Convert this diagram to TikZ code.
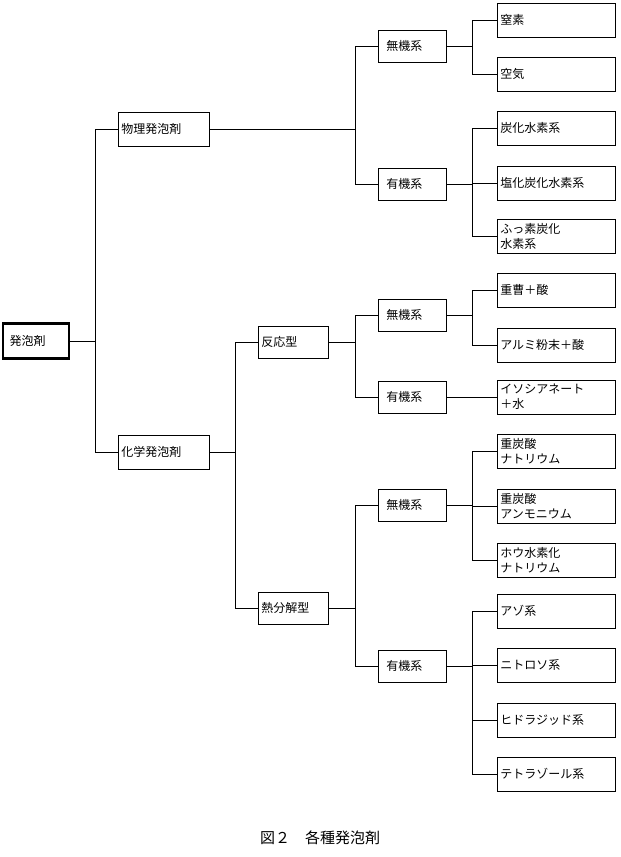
\documentclass[tikz,border=0pt]{standalone}
\usepackage{fontspec}
\setmainfont{Noto Sans CJK JP}
\usetikzlibrary{positioning}
\tikzset{
  box/.style={draw, line width=0.7pt, font=\fontsize{12}{15}\selectfont, inner sep=3pt, anchor=west, align=left},
  rootbox/.style={box, line width=2.2pt, text width=60pt, minimum height=35pt},
  catbox/.style={box, text width=85pt, minimum height=34pt},
  typebox/.style={box, text width=64pt, minimum height=32pt},
  midbox/.style={box, text width=62pt, minimum height=32pt},
  leafbox/.style={box, text width=112pt, minimum height=34pt},
  conn/.style={line width=0.7pt}
}
\begin{document}
\begin{tikzpicture}[x=1pt, y=-1pt]
        \useasboundingbox (0,0) rectangle (621,857);
        % root and first level
        \node[rootbox] (root) at (1.5,341) {\hspace*{4pt}発泡剤};
        \node[catbox] (phys) at (118,129) {物理発泡剤};
        \node[catbox] (chem) at (118,452) {化学発泡剤};
        \node[typebox] (react) at (258,342) {反応型};
        \node[typebox] (therm) at (258,608) {熱分解型};
        
        % middle level
        \node[midbox] (pin) at (378,46) {\hspace*{5pt}無機系};
        \node[midbox] (porg) at (378,184) {\hspace*{5pt}有機系};
        \node[midbox] (rin) at (378,315) {\hspace*{5pt}無機系};
        \node[midbox] (rorg) at (378,397) {\hspace*{5pt}有機系};
        \node[midbox] (tin) at (378,505) {\hspace*{5pt}無機系};
        \node[midbox] (torg) at (378,666) {\hspace*{5pt}有機系};
        
        % leaves
        \node[leafbox] (l1) at (497,20) {窒素};
        \node[leafbox] (l2) at (497,74) {空気};
        \node[leafbox] (l3) at (497,128) {炭化水素系};
        \node[leafbox] (l4) at (497,183) {塩化炭化水素系};
        \node[leafbox] (l5) at (497,236) {ふっ素炭化\\水素系};
        \node[leafbox] (l6) at (497,290) {重曹＋酸};
        \node[leafbox] (l7) at (497,345) {アルミ粉末＋酸};
        \node[leafbox] (l8) at (497,397) {イソシアネート\\＋水};
        \node[leafbox] (l9) at (497,451) {重炭酸\\ナトリウム};
        \node[leafbox] (l10) at (497,506) {重炭酸\\アンモニウム};
        \node[leafbox] (l11) at (497,560) {ホウ水素化\\ナトリウム};
        \node[leafbox] (l12) at (497,611) {アゾ系};
        \node[leafbox] (l13) at (497,665) {ニトロソ系};
        \node[leafbox] (l14) at (497,720) {ヒドラジッド系};
        \node[leafbox] (l15) at (497,774) {テトラゾール系};
        
        % connectors
        \draw[conn] (phys.west) -- ++(-23,0) |- (chem.west);
        \draw[conn] (root.east) -- ([xshift=-23pt]phys.west |- root.east);
        \draw[conn] (pin.west) -- ++(-23,0) |- (porg.west);
        \draw[conn] (phys.east) -- ([xshift=-23pt]pin.west |- phys.east);
        \draw[conn] (react.west) -- ++(-23,0) |- (therm.west);
        \draw[conn] (chem.east) -- ([xshift=-23pt]react.west |- chem.east);
        \draw[conn] (rin.west) -- ++(-23,0) |- (rorg.west);
        \draw[conn] (react.east) -- ([xshift=-23pt]rin.west |- react.east);
        \draw[conn] (tin.west) -- ++(-23,0) |- (torg.west);
        \draw[conn] (therm.east) -- ([xshift=-23pt]tin.west |- therm.east);
        
        \draw[conn] (l1.west) -- ++(-25,0) |- (l2.west);
        \draw[conn] (pin.east) -- ([xshift=-25pt]l1.west |- pin.east);
        \draw[conn] (l3.west) -- ++(-25,0) |- (l5.west);
        \draw[conn] (l4.west) -- ++(-25,0);
        \draw[conn] (porg.east) -- ([xshift=-25pt]l3.west |- porg.east);
        \draw[conn] (l6.west) -- ++(-25,0) |- (l7.west);
        \draw[conn] (rin.east) -- ([xshift=-25pt]l6.west |- rin.east);
        \draw[conn] (rorg.east) -- (l8.west);
        \draw[conn] (l9.west) -- ++(-25,0) |- (l11.west);
        \draw[conn] (l10.west) -- ++(-25,0);
        \draw[conn] (tin.east) -- ([xshift=-25pt]l9.west |- tin.east);
        \draw[conn] (l12.west) -- ++(-25,0) |- (l15.west);
        \draw[conn] (l13.west) -- ++(-25,0);
        \draw[conn] (l14.west) -- ++(-25,0);
        \draw[conn] (torg.east) -- ([xshift=-25pt]l12.west |- torg.east);
        
        \node[font=\fontsize{15}{17}\selectfont] (cap) at (320,838) {図２\quad 各種発泡剤};
    \end{tikzpicture}
\end{document}
